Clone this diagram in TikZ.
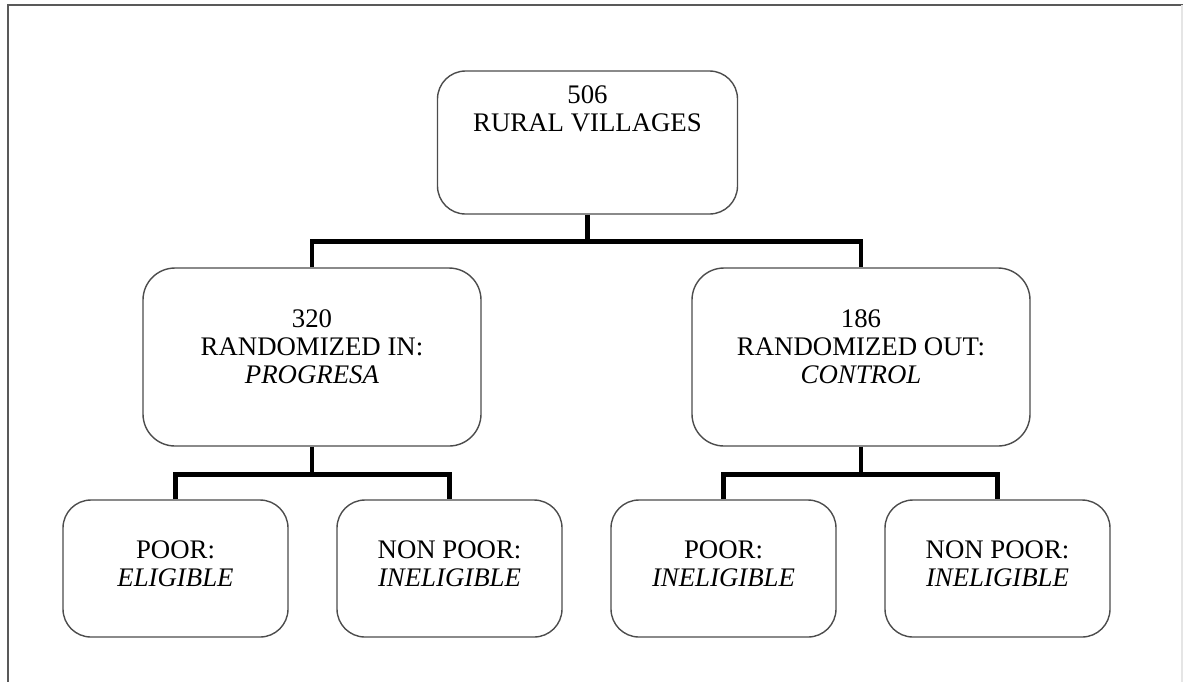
\documentclass[tikz,border=0pt]{standalone}
\usepackage{fontspec}
\setmainfont{Liberation Serif}

\begin{document}
\begin{tikzpicture}[x=0.5pt, y=-0.5pt, font=\fontsize{13.4}{14}\selectfont]
        \tikzstyle{box}=[draw=black!70, line width=0.7pt, rounded corners=14pt, align=center, text=black]
        \tikzstyle{village}=[box, minimum width=150pt, minimum height=71.5pt]
        \tikzstyle{arm}=[box, minimum width=169pt, minimum height=89pt, rounded corners=16pt]
        \tikzstyle{group}=[box, minimum width=112.5pt, minimum height=68.5pt, node distance=137pt]
        \tikzstyle{link}=[black, line width=2.4pt]
        \useasboundingbox (0,0) rectangle (1183,682);
        % page frame
        \draw[black!65, line width=1.2pt] (1183,5) -- (8,5) -- (8,682);
        \draw[black!10, line width=0.6pt] (1182,5) -- (1182,682);
        % boxes
        \node[village]  (top)   at (587.5,142.5)     {506\\RURAL VILLAGES\\[20pt]\mbox{}};
        \node[arm]      (treat) at (312,357)         {320\\RANDOMIZED IN:\\\textit{PROGRESA}\\[-4pt]\mbox{}};
        \node[arm]      (ctrl)  at (861,357)         {186\\RANDOMIZED OUT:\\\textit{CONTROL}\\[-4pt]\mbox{}};
        \node[group]    (tpoor) at (175.5,568.5)     {POOR:\\\textit{ELIGIBLE}\\[-9pt]\mbox{}};
        \node[group]    (tnon)  [right of=tpoor]     {NON POOR:\\\textit{INELIGIBLE}\\[-9pt]\mbox{}};
        \node[group]    (cpoor) at (723.5,568.5)     {POOR:\\\textit{INELIGIBLE}\\[-9pt]\mbox{}};
        \node[group]    (cnon)  [right of=cpoor]     {NON POOR:\\\textit{INELIGIBLE}\\[-9pt]\mbox{}};
        % connectors
        \draw[link] (top.south) -- ++(0,27) coordinate (j0);
        \draw[link] (treat.north) |- (j0) -| (ctrl.north);
        \draw[link] (treat.south) -- ++(0,28) coordinate (j1);
        \draw[link] (tpoor.north) |- (j1) -| (tnon.north);
        \draw[link] (ctrl.south) -- ++(0,28) coordinate (j2);
        \draw[link] (cpoor.north) |- (j2) -| (cnon.north);
\end{tikzpicture}
\end{document}
